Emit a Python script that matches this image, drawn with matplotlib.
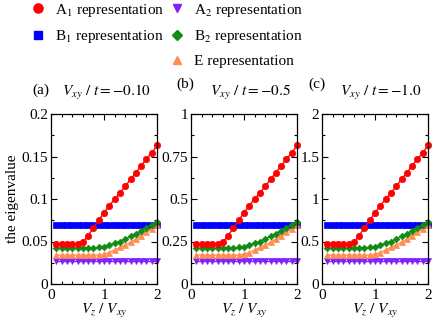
import numpy as np
import matplotlib
matplotlib.use("Agg")
import matplotlib.pyplot as plt
from matplotlib.lines import Line2D

plt.rcParams['font.family'] = ['Liberation Serif', 'DejaVu Serif']
plt.rcParams['mathtext.fontset'] = 'stix'

# ---- data (panel (a) scale; panels (b) and (c) are scaled) ----
vz = [0.1, 0.2, 0.3, 0.4, 0.5, 0.6, 0.7, 0.8, 0.9, 1.0,
      1.1, 1.2, 1.3, 1.4, 1.5, 1.6, 1.7, 1.8, 1.9, 2.0]
a1 = [0.047, 0.047, 0.047, 0.047, 0.047, 0.049, 0.057, 0.066, 0.075, 0.084,
      0.092, 0.100, 0.107, 0.115, 0.123, 0.131, 0.139, 0.147, 0.154, 0.163]
b1 = [0.069, 0.069, 0.069, 0.069, 0.069, 0.069, 0.069, 0.069, 0.069, 0.069,
      0.069, 0.069, 0.069, 0.069, 0.069, 0.069, 0.069, 0.069, 0.069, 0.069]
a2 = [0.027, 0.027, 0.027, 0.027, 0.027, 0.027, 0.027, 0.027, 0.027, 0.027,
      0.027, 0.027, 0.027, 0.027, 0.027, 0.027, 0.027, 0.027, 0.027, 0.027]
b2 = [0.042, 0.042, 0.042, 0.042, 0.042, 0.042, 0.042, 0.042, 0.043, 0.044,
      0.046, 0.048, 0.050, 0.053, 0.056, 0.059, 0.062, 0.066, 0.069, 0.073]
e_rep = [0.034, 0.034, 0.034, 0.034, 0.034, 0.034, 0.034, 0.034, 0.034, 0.035,
         0.037, 0.040, 0.043, 0.046, 0.049, 0.053, 0.057, 0.061, 0.065, 0.069]

panel_labels = ['(a)', '(b)', '(c)']
panel_titles = [r'$V_{xy}\ /\ t = -0.10$', r'$V_{xy}\ /\ t = -0.5$', r'$V_{xy}\ /\ t = -1.0$']
panel_scale = [1.0, 5.0, 10.0]
ymax = [0.2, 1.0, 2.0]
yticks = [[0, 0.05, 0.1, 0.15, 0.2], [0, 0.25, 0.5, 0.75, 1], [0, 0.5, 1, 1.5, 2]]
yticklabels = [['0', '0.05', '0.1', '0.15', '0.2'], ['0', '0.25', '0.5', '0.75', '1'],
               ['0', '0.5', '1', '1.5', '2']]
xticks = [0, 1, 2]

series = [
    ('B$_1$ representation', b1, 's', '#0000ff', 4.3),
    ('A$_2$ representation', a2, 'v', '#8020ff', 4.0),
    ('E representation', e_rep, '^', '#ff8c50', 4.2),
    ('B$_2$ representation', b2, 'D', '#138a13', 3.4),
    ('A$_1$ representation', a1, 'o', '#ff0000', 4.6),
]

fig = plt.figure(figsize=(4.36, 3.24), dpi=100)
lefts = [51/436, 191/436, 322/436]
w = 106/436
bottom = 1 - 284/324
h = 170/324

for i in range(3):
    ax = fig.add_axes([lefts[i], bottom, w, h])
    s = panel_scale[i]
    for name, vals, mk, col, ms in series:
        ax.plot(vz, np.array(vals) * s, marker=mk, color=col, ms=ms,
                lw=1.0, mec=col, mew=0.5, clip_on=False)
    ax.set_xlim(0, 2)
    ax.set_ylim(0, ymax[i])
    ax.set_xticks(xticks)
    ax.set_xticklabels(['0', '1', '2'])
    ax.set_xticks(np.arange(0, 2.01, 0.2), minor=True)
    ax.set_yticks(yticks[i])
    ax.set_yticklabels(yticklabels[i])
    ax.set_yticks(np.linspace(0, ymax[i], 9), minor=True)
    ax.tick_params(which='both', direction='in', top=True, right=True,
                   labelsize=11)
    ax.tick_params(axis='x', pad=3.5)
    ax.tick_params(axis='y', pad=2.0)
    ax.tick_params(which='major', length=4, width=0.8)
    ax.tick_params(which='minor', length=2.5, width=0.8)
    for sp in ax.spines.values():
        sp.set_linewidth(0.9)
    ax.set_xlabel(r'$V_z\ /\ V_{xy}$', fontsize=11, labelpad=0)
    if i == 0:
        ax.set_ylabel('the eigenvalue', fontsize=11, labelpad=2)

# panel titles
fig.text(32/436, 1 - 90/324, panel_labels[0], fontsize=11, va='center', ha='left')
fig.text(62/436, 1 - 93/324, panel_titles[0], fontsize=11, va='center', ha='left')
fig.text(176/436, 1 - 84/324, panel_labels[1], fontsize=11, va='center', ha='left')
fig.text(210/436, 1 - 93/324, panel_titles[1], fontsize=11, va='center', ha='left')
fig.text(308/436, 1 - 84/324, panel_labels[2], fontsize=11, va='center', ha='left')
fig.text(340/436, 1 - 93/324, panel_titles[2], fontsize=11, va='center', ha='left')

# legend
def proxy(mk, col, ms):
    return Line2D([], [], marker=mk, color=col, ls='none', ms=ms + 2, mec=col)

blank = Line2D([], [], ls='none', marker=None)
leg_h = [proxy('o', '#ff0000', 4.6), proxy('s', '#0000ff', 4.3), blank,
         proxy('v', '#8020ff', 4.0), proxy('D', '#138a13', 3.4), proxy('^', '#ff8c50', 4.2)]
leg_l = ['A$_1$ representation', 'B$_1$ representation', '',
         'A$_2$ representation', 'B$_2$ representation', 'E representation']
fig.legend(leg_h, leg_l, ncol=2, loc='upper left', bbox_to_anchor=(29/436, 1.0),
           frameon=False, fontsize=11, handlelength=1.0, handletextpad=0.6,
           columnspacing=0.35, labelspacing=0.62, borderaxespad=0.0, borderpad=0.1)

fig.savefig('out.png', dpi=100)
